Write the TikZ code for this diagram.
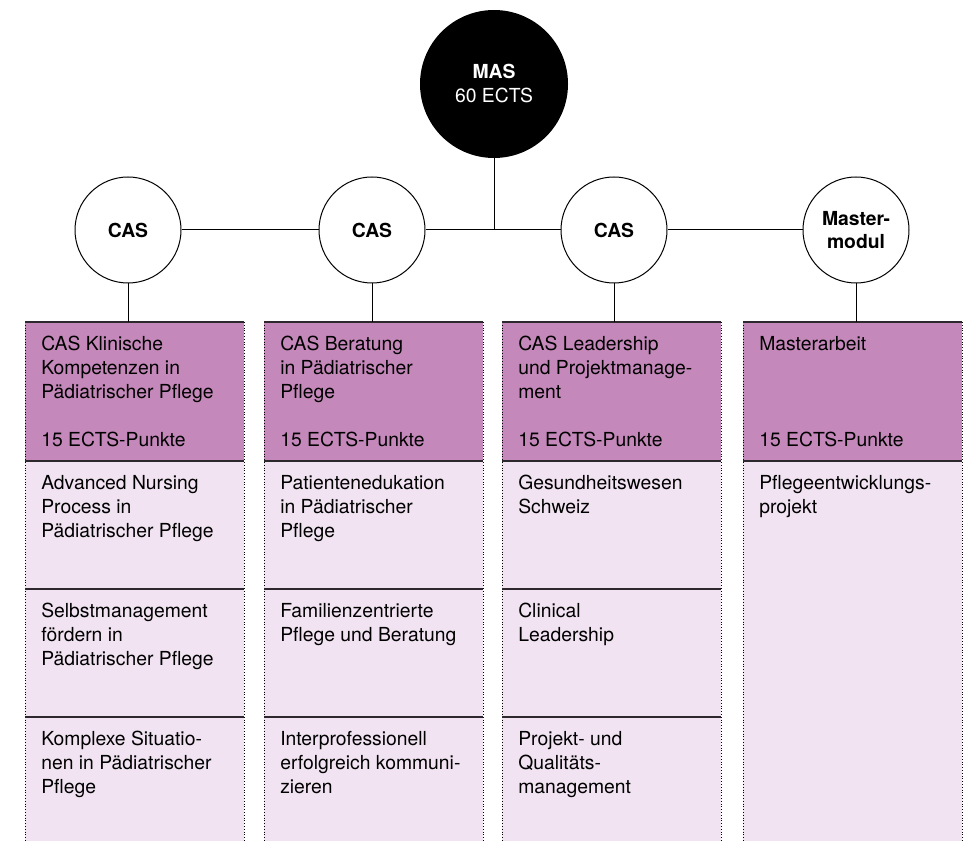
\documentclass[tikz,border=0pt]{standalone}
\usepackage{fontspec}
\setmainfont{TeX Gyre Heros}
\usetikzlibrary{positioning}
\definecolor{headpurple}{RGB}{196,136,186}
\definecolor{rowpink}{RGB}{241,227,242}
\definecolor{edgegray}{RGB}{45,40,45}

\begin{document}
\begin{tikzpicture}[x=0.75pt,y=-0.75pt,
  every node/.style={font=\fontsize{14.5}{18}\selectfont},
  ring/.style={circle,draw,line width=0.75pt,fill=white,minimum size=79.5pt,inner sep=0pt,align=center,font=\fontsize{14.5}{17.5}\selectfont\bfseries},
  masring/.style={circle,fill=black,text=white,minimum size=111pt,inner sep=0pt,align=center},
  headbox/.style={fill=headpurple,inner sep=0pt,outer sep=0pt,minimum width=164.25pt,minimum height=104.25pt,anchor=north west},
  celltext/.style={anchor=north west,inner sep=0pt,align=left},
  ects/.style={anchor=base west,inner sep=0pt},
  link/.style={line width=0.75pt},
  sepline/.style={line width=1.1pt,edgegray},
  sideline/.style={line width=0.7pt,dash pattern=on 0.7pt off 1.4pt}]
  \useasboundingbox (0,0) rectangle (964,841);
  % columns
  \foreach \l/\r in {25/244,264/483,502/721,743/962}
    \fill[rowpink] (\l,461) rectangle (\r,841);
  \node[headbox] (head1) at (25,322) {};
  \node[headbox] (head2) at (264,322) {};
  \node[headbox] (head3) at (502,322) {};
  \node[headbox] (head4) at (743,322) {};
  \foreach \l/\r in {25/244,264/483,502/721,743/962}{
    \draw[sideline] (\l,322) -- (\l,841);
    \draw[sideline] (\r,322) -- (\r,841);
    \draw[sepline] (\l,322) -- (\r,322);
    \draw[sepline] (\l,461) -- (\r,461);
  }
  \foreach \l/\r in {25/244,264/483,502/721}
    \foreach \y in {589,717}
      \draw[sepline] (\l,\y) -- (\r,\y);
  % circles
  \node[masring] (mas) at (494,84) {\textbf{MAS}\\60 ECTS};
  \node[ring] (cas1) at (128,230) {CAS};
  \node[ring] (cas2) at (372,230) {CAS};
  \node[ring] (cas3) at (614,230) {CAS};
  \node[ring] (mm) at (856,230) {Master-\\modul};
  \draw[link] (cas1) -- (cas2);
  \draw[link] (cas2) -- (cas3);
  \draw[link] (cas3) -- (mm);
  \draw[link] (mas) -- (mas |- cas1);
  \foreach \c/\h in {cas1/head1,cas2/head2,cas3/head3,mm/head4}
    \draw[link] (\c) -- (\c |- \h.north);
  % headers
  \node[celltext] (t1) at (41,336) {CAS Klinische\\Kompetenzen in\\Pädiatrischer Pflege};
  \node[celltext] (t2) at (280,336) {CAS Beratung\\in Pädiatrischer\\Pflege};
  \node[celltext] (t3) at (518,336) {CAS Leadership\\und Projektmanage-\\ment};
  \node[celltext] (t4) at (759,336) {Masterarbeit};
  \node[ects] (e1) at (41,446) {15 ECTS-Punkte};
  \node[ects] (e2) at (280,446) {15 ECTS-Punkte};
  \node[ects] (e3) at (518,446) {15 ECTS-Punkte};
  \node[ects] (e4) at (759,446) {15 ECTS-Punkte};
  % modules
  \node[celltext] (m11) at (41,475) {Advanced Nursing\\Process in\\Pädiatrischer Pflege};
  \node[celltext] (m12) at (41,603) {Selbstmanagement\\fördern in\\Pädiatrischer Pflege};
  \node[celltext] (m13) at (41,731) {Komplexe Situatio-\\nen in Pädiatrischer\\Pflege};
  \node[celltext] (m21) at (280,475) {Patientenedukation\\in Pädiatrischer\\Pflege};
  \node[celltext] (m22) at (280,603) {Familienzentrierte\\Pflege und Beratung};
  \node[celltext] (m23) at (280,731) {Interprofessionell\\erfolgreich kommuni-\\zieren};
  \node[celltext] (m31) at (518,475) {Gesundheitswesen\\Schweiz};
  \node[celltext] (m32) at (518,603) {Clinical\\Leadership};
  \node[celltext] (m33) at (518,731) {Projekt- und\\Qualitäts-\\management};
  \node[celltext] (m41) at (759,475) {Pflegeentwicklungs-\\projekt};
\end{tikzpicture}
\end{document}
